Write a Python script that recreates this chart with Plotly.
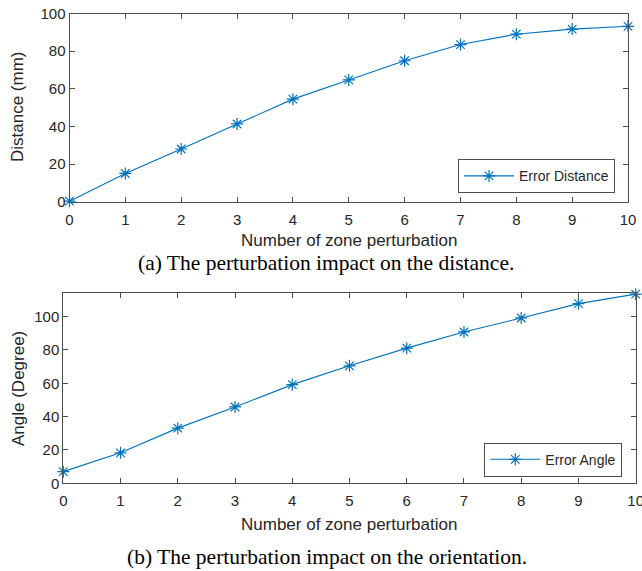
import plotly.graph_objects as go

W, H = 642, 571

zones = [0, 1, 2, 3, 4, 5, 6, 7, 8, 9, 10]
error_distance = [0.3, 15.0, 28.0, 41.3, 54.5, 64.7, 74.9, 83.5, 89.0, 91.7, 93.2]
error_angle = [7.0, 18.3, 33.1, 45.8, 59.2, 70.5, 81.1, 90.8, 99.2, 107.8, 113.5]
x_ticks = [0, 1, 2, 3, 4, 5, 6, 7, 8, 9, 10]
y_ticks = [0, 20, 40, 60, 80, 100]

BLUE = "#0072BD"
TXT = "#262626"
AX = "#4d4d4d"


def px_x(p):
    return p / W


def px_y(p):
    return 1 - p / H


fig = go.Figure()
marker = dict(symbol="asterisk-open", size=10, color=BLUE, line=dict(color=BLUE, width=1.2))
fig.add_trace(go.Scatter(x=zones, y=error_distance, mode="lines+markers", name="Error Distance",
                         line=dict(color=BLUE, width=1.1), marker=marker,
                         xaxis="x", yaxis="y", legend="legend", cliponaxis=False))
fig.add_trace(go.Scatter(x=zones, y=error_angle, mode="lines+markers", name="Error Angle",
                         line=dict(color=BLUE, width=1.1), marker=marker,
                         xaxis="x2", yaxis="y2", legend="legend2", cliponaxis=False))

axis_common = dict(showline=True, linecolor=AX, linewidth=1, mirror="ticks", ticks="inside",
                   ticklen=5, tickcolor=AX, showgrid=False, zeroline=False, automargin=False,
                   ticklabeloverflow="allow",
                   tickfont=dict(family="Liberation Sans, Arial", size=15, color=TXT))
xaxis_extra = dict(ticklabelstandoff=4)

legend_font = dict(family="Liberation Sans, Arial", size=14, color=TXT)
fig.update_layout(
    width=W, height=H, margin=dict(l=0, r=0, t=0, b=0),
    paper_bgcolor="white", plot_bgcolor="white",
    showlegend=True,
    xaxis=dict(domain=[px_x(69.5), px_x(628)], range=[0, 10], tickvals=x_ticks, anchor="y",
               **axis_common, **xaxis_extra),
    yaxis=dict(domain=[px_y(201.7), px_y(13.5)], range=[0, 100], tickvals=y_ticks, anchor="x", **axis_common),
    xaxis2=dict(domain=[px_x(63.3), px_x(635.7)], range=[0, 10], tickvals=x_ticks, anchor="y2",
                **axis_common, **xaxis_extra),
    yaxis2=dict(domain=[px_y(483.3), px_y(293.3)], range=[0, 114], tickvals=y_ticks, anchor="x2", **axis_common),
    legend=dict(x=px_x(615), y=px_y(176.3), xanchor="right", yanchor="middle", itemwidth=50,
                bgcolor="white", bordercolor=AX, borderwidth=1, font=legend_font),
    legend2=dict(x=px_x(622.3), y=px_y(459.7), xanchor="right", yanchor="middle", itemwidth=50,
                 bgcolor="white", bordercolor=AX, borderwidth=1, font=legend_font),
)

sans = dict(family="Liberation Sans, Arial", size=17, color=TXT)
serif = dict(family="Liberation Serif, Times New Roman", size=21.5, color="black")
ann = [
    dict(text="Distance (mm)", x=px_x(17), y=px_y(107), textangle=-90, font=sans),
    dict(text="Number of zone perturbation", x=px_x(349), y=px_y(240), font=sans),
    dict(text="(a) The perturbation impact on the distance.", x=px_x(326), y=px_y(263), font=serif),
    dict(text="Angle (Degree)", x=px_x(18), y=px_y(389), textangle=-90, font=sans),
    dict(text="Number of zone perturbation", x=px_x(349), y=px_y(524), font=sans),
    dict(text="(b) The perturbation impact on the orientation.", x=px_x(327), y=px_y(557), font=serif),
]
for a in ann:
    fig.add_annotation(xref="paper", yref="paper", showarrow=False, xanchor="center", yanchor="middle", **a)

fig.write_html("out.html", config={"displayModeBar": False},
               post_script="document.body.style.margin='0';")
